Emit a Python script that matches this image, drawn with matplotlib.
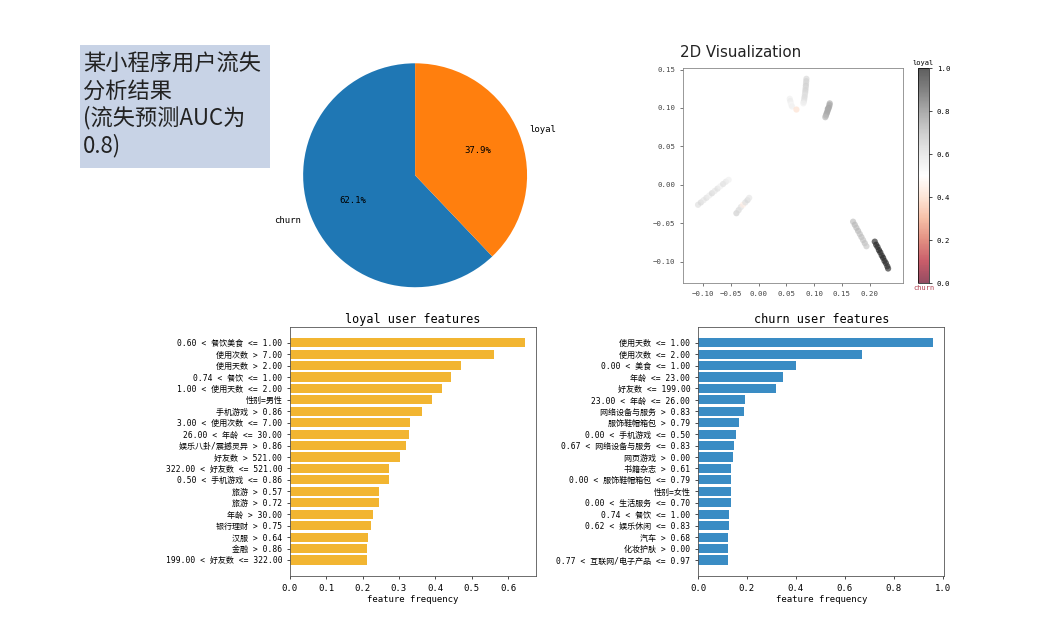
import numpy as np
import matplotlib.pyplot as plt
from matplotlib.patches import Rectangle

plt.rcParams['font.family'] = ['DejaVu Sans Mono', 'Noto Sans CJK SC']

pie_labels = ['churn', 'loyal']
pie_shares = [62.1, 37.9]

loyal_features = ['0.60 < 餐饮美食 <= 1.00', '使用次数 > 7.00', '使用天数 > 2.00',
                  '0.74 < 餐饮 <= 1.00', '1.00 < 使用天数 <= 2.00', '性别=男性',
                  '手机游戏 > 0.86', '3.00 < 使用次数 <= 7.00', '26.00 < 年龄 <= 30.00',
                  '娱乐八卦/震撼灵异 > 0.86', '好友数 > 521.00', '322.00 < 好友数 <= 521.00',
                  '0.50 < 手机游戏 <= 0.86', '旅游 > 0.57', '旅游 > 0.72', '年龄 > 30.00',
                  '银行理财 > 0.75', '汉服 > 0.64', '金融 > 0.86', '199.00 < 好友数 <= 322.00']
loyal_freq = [0.646, 0.562, 0.471, 0.444, 0.418, 0.392, 0.363, 0.330, 0.328, 0.319,
              0.304, 0.274, 0.274, 0.244, 0.244, 0.230, 0.223, 0.216, 0.212, 0.212]

churn_features = ['使用天数 <= 1.00', '使用次数 <= 2.00', '0.00 < 美食 <= 1.00',
                  '年龄 <= 23.00', '好友数 <= 199.00', '23.00 < 年龄 <= 26.00',
                  '网络设备与服务 > 0.83', '服饰鞋帽箱包 > 0.79', '0.00 < 手机游戏 <= 0.50',
                  '0.67 < 网络设备与服务 <= 0.83', '网页游戏 > 0.00', '书籍杂志 > 0.61',
                  '0.00 < 服饰鞋帽箱包 <= 0.79', '性别=女性', '0.00 < 生活服务 <= 0.70',
                  '0.74 < 餐饮 <= 1.00', '0.62 < 娱乐休闲 <= 0.83', '汽车 > 0.68',
                  '化妆护肤 > 0.00', '0.77 < 互联网/电子产品 <= 0.97']
churn_freq = [0.960, 0.670, 0.400, 0.348, 0.319, 0.193, 0.190, 0.166, 0.156, 0.149,
              0.142, 0.134, 0.135, 0.134, 0.134, 0.127, 0.126, 0.122, 0.123, 0.122]

# 2D embedding of users
emb_x = [0.086, 0.0857, 0.0853, 0.085, 0.0846, 0.0842, 0.0838, 0.0832, 0.0826, 0.082, 0.0812, 0.0805,
         0.056, 0.057, 0.058, 0.059, 0.060, 0.068,
         0.128, 0.1275, 0.127, 0.126, 0.125, 0.124, 0.123, 0.122, 0.121, 0.120, 0.1245,
         -0.109, -0.104, -0.099, -0.094, -0.089, -0.084, -0.079, -0.074, -0.069, -0.064, -0.059, -0.054,
         -0.040, -0.036, -0.032, -0.028, -0.024, -0.020, -0.017,
         0.170, 0.173, 0.176, 0.179, 0.182, 0.185, 0.188, 0.191, 0.194,
         0.209, 0.2115, 0.214, 0.2165, 0.219, 0.2215, 0.224, 0.2265, 0.229, 0.2315, 0.233]
emb_y = [0.138, 0.135, 0.132, 0.129, 0.126, 0.123, 0.120, 0.117, 0.114, 0.111, 0.108, 0.106,
         0.112, 0.109, 0.106, 0.104, 0.102, 0.098,
         0.106, 0.104, 0.102, 0.100, 0.098, 0.096, 0.094, 0.092, 0.090, 0.088, 0.099,
         -0.026, -0.023, -0.020, -0.017, -0.014, -0.011, -0.008, -0.005, -0.002, 0.001, 0.004, 0.0065,
         -0.037, -0.033, -0.029, -0.026, -0.023, -0.020, -0.017,
         -0.048, -0.052, -0.056, -0.060, -0.064, -0.068, -0.072, -0.076, -0.080,
         -0.074, -0.078, -0.081, -0.085, -0.088, -0.092, -0.095, -0.099, -0.102, -0.106, -0.109]
emb_score = [0.62, 0.63, 0.62, 0.64, 0.62, 0.63, 0.62, 0.6, 0.61, 0.6, 0.58, 0.55,
             0.55, 0.56, 0.54, 0.52, 0.55, 0.42,
             0.72, 0.73, 0.72, 0.74, 0.73, 0.72, 0.74, 0.73, 0.72, 0.7, 0.73,
             0.6, 0.62, 0.58, 0.6, 0.56, 0.62, 0.58, 0.6, 0.55, 0.6, 0.58, 0.55,
             0.64, 0.62, 0.6, 0.45, 0.6, 0.62, 0.58,
             0.68, 0.7, 0.69, 0.7, 0.68, 0.69, 0.67, 0.68, 0.66,
             0.95, 0.97, 0.96, 0.98, 0.97, 0.96, 0.98, 0.97, 0.96, 0.95, 0.94]

fig = plt.figure(figsize=(10.58, 6.42), dpi=100)

# title box
fig.add_artist(Rectangle((0.0756, 0.738), 0.1796, 0.1916, transform=fig.transFigure,
                         facecolor='#c8d3e6', edgecolor='none'))
fig.text(0.0785, 0.918, '某小程序用户流失\n分析结果\n(流失预测AUC为\n0.8)', fontsize=16,
         va='top', ha='left', color='#222222', linespacing=1.2,
         family=['Noto Sans CJK SC', 'DejaVu Sans'])

# pie
ax_pie = fig.add_axes([0.26, 0.509, 0.2647, 0.436])
ax_pie.pie(pie_shares, labels=pie_labels, autopct='%1.1f%%', startangle=90,
           colors=['#1f77b4', '#ff7f0e'], textprops={'fontsize': 6.5})
ax_pie.set_aspect('equal')

# 2D scatter
ax_sc = fig.add_axes([0.6456, 0.559, 0.208, 0.335])
sc = ax_sc.scatter(emb_x, emb_y, c=emb_score, cmap='RdGy', vmin=0, vmax=1,
                   s=20, edgecolors='none', alpha=0.7)
ax_sc.set_xlim(-0.136, 0.26)
ax_sc.set_ylim(-0.128, 0.152)
ax_sc.set_xticks([-0.10, -0.05, 0.00, 0.05, 0.10, 0.15, 0.20])
ax_sc.set_yticks([-0.10, -0.05, 0.00, 0.05, 0.10, 0.15])
ax_sc.tick_params(labelsize=5.3, length=2, width=0.5, colors='#444444')
for s in ax_sc.spines.values():
    s.set_linewidth(0.6)
    s.set_color('#888888')
fig.text(0.643, 0.919, '2D Visualization', fontsize=10.8, va='center', ha='left',
         family=['DejaVu Sans'], color='#222222')

cax = fig.add_axes([0.8677, 0.559, 0.0104, 0.335])
cb = fig.colorbar(sc, cax=cax)
cb.ax.tick_params(labelsize=5.3, length=2, width=0.5)
cb.outline.set_linewidth(0.5)
cax.text(0.5, 1.01, 'loyal', transform=cax.transAxes, ha='center', va='bottom', fontsize=5)
cax.text(0.5, -0.01, 'churn', transform=cax.transAxes, ha='center', va='top', fontsize=5,
         color='#b04050')

# feature bars
def feature_bars(rect, names, freqs, color, title, xticks):
    ax = fig.add_axes(rect)
    pos = np.arange(len(names))
    ax.barh(pos, freqs, height=0.8, color=color)
    ax.set_yticks(pos)
    ax.set_yticklabels(names, fontsize=5.8)
    ax.invert_yaxis()
    ax.set_xticks(xticks)
    ax.tick_params(axis='x', labelsize=6.5, length=2, width=0.5)
    ax.tick_params(axis='y', length=2, width=0.5)
    ax.set_xlabel('feature frequency', fontsize=6.5, labelpad=2)
    ax.set_title(title, fontsize=8.5, pad=3)
    for s in ax.spines.values():
        s.set_linewidth(0.6)
        s.set_color('#555555')
    return ax

feature_bars([0.274, 0.103, 0.233, 0.388], loyal_features, loyal_freq, '#f2b531',
             'loyal user features', [0, 0.1, 0.2, 0.3, 0.4, 0.5, 0.6])
feature_bars([0.6597, 0.103, 0.233, 0.388], churn_features, churn_freq, '#3a8cc4',
             'churn user features', [0, 0.2, 0.4, 0.6, 0.8, 1.0])

fig.savefig('out.png', dpi=100)
